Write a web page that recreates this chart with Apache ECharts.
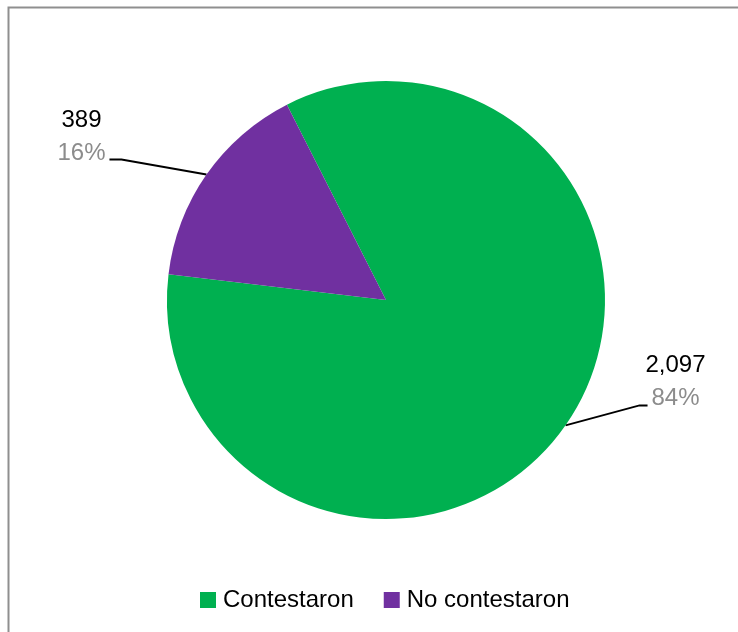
<!DOCTYPE html>
<html>
<head>
<meta charset="utf-8">
<script src="https://cdn.jsdelivr.net/npm/echarts@6/dist/echarts.min.js"></script>
<style>
  html, body { margin: 0; padding: 0; background: #fff; }
  #chart { width: 738px; height: 632px; }
</style>
</head>
<body>
<div id="chart"></div>
<script>
// Survey responses
const categories = ['Contestaron', 'No contestaron'];
const counts = [2097, 389];
const colors = ['#00B050', '#7030A0'];

const FONT = '"Liberation Sans", Arial, sans-serif';

// Offsets of label elbow/end/center relative to the slice's edge anchor
const labelOffsets = [
  { elbow: [74, -20], end: [82, -20], center: [110, -44] },
  { elbow: [-85, -15], end: [-97, -15], center: [-125, -38] }
];

const total = counts.reduce((a, b) => a + b, 0);
const pieData = categories.map((name, i) => ({
  name,
  value: counts[i],
  itemStyle: { color: colors[i] }
}));

const chart = echarts.init(document.getElementById('chart'));
chart.setOption({
  animation: false,
  backgroundColor: '#fff',
  graphic: [{
    type: 'rect',
    silent: true,
    shape: { x: 8.5, y: 7.5, width: 800, height: 700 },
    style: { fill: 'none', stroke: '#8f8f8f', lineWidth: 2 }
  }],
  legend: {
    data: categories,
    left: 195,
    top: 583,
    icon: 'rect',
    itemWidth: 16,
    itemHeight: 16,
    itemGap: 30,
    textStyle: { fontFamily: FONT, fontSize: 24, color: '#000', padding: [0, 0, 0, 2] }
  },
  series: [{
    type: 'pie',
    center: [386, 300],
    radius: 219,
    startAngle: 116.9,
    clockwise: true,
    data: pieData,
    label: {
      show: true,
      position: 'outside',
      align: 'center',
      formatter: p => '{n|' + p.value.toLocaleString('en-US') + '}\n{p|' + Math.round(p.value / total * 100) + '%}',
      rich: {
        n: { fontFamily: FONT, fontSize: 24, color: '#000', lineHeight: 33, align: 'center' },
        p: { fontFamily: FONT, fontSize: 24, color: '#8c8c8c', lineHeight: 33, align: 'center' }
      }
    },
    labelLine: { show: true, lineStyle: { color: '#000', width: 2 } },
    labelLayout: function (params) {
      const off = labelOffsets[params.dataIndex];
      const a = params.labelLinePoints[0];
      return {
        x: a[0] + off.center[0],
        y: a[1] + off.center[1],
        align: 'center',
        verticalAlign: 'middle',
        labelLinePoints: [
          [a[0], a[1]],
          [a[0] + off.elbow[0], a[1] + off.elbow[1]],
          [a[0] + off.end[0], a[1] + off.end[1]]
        ]
      };
    },
    emphasis: { disabled: true }
  }]
});
</script>
</body>
</html>
